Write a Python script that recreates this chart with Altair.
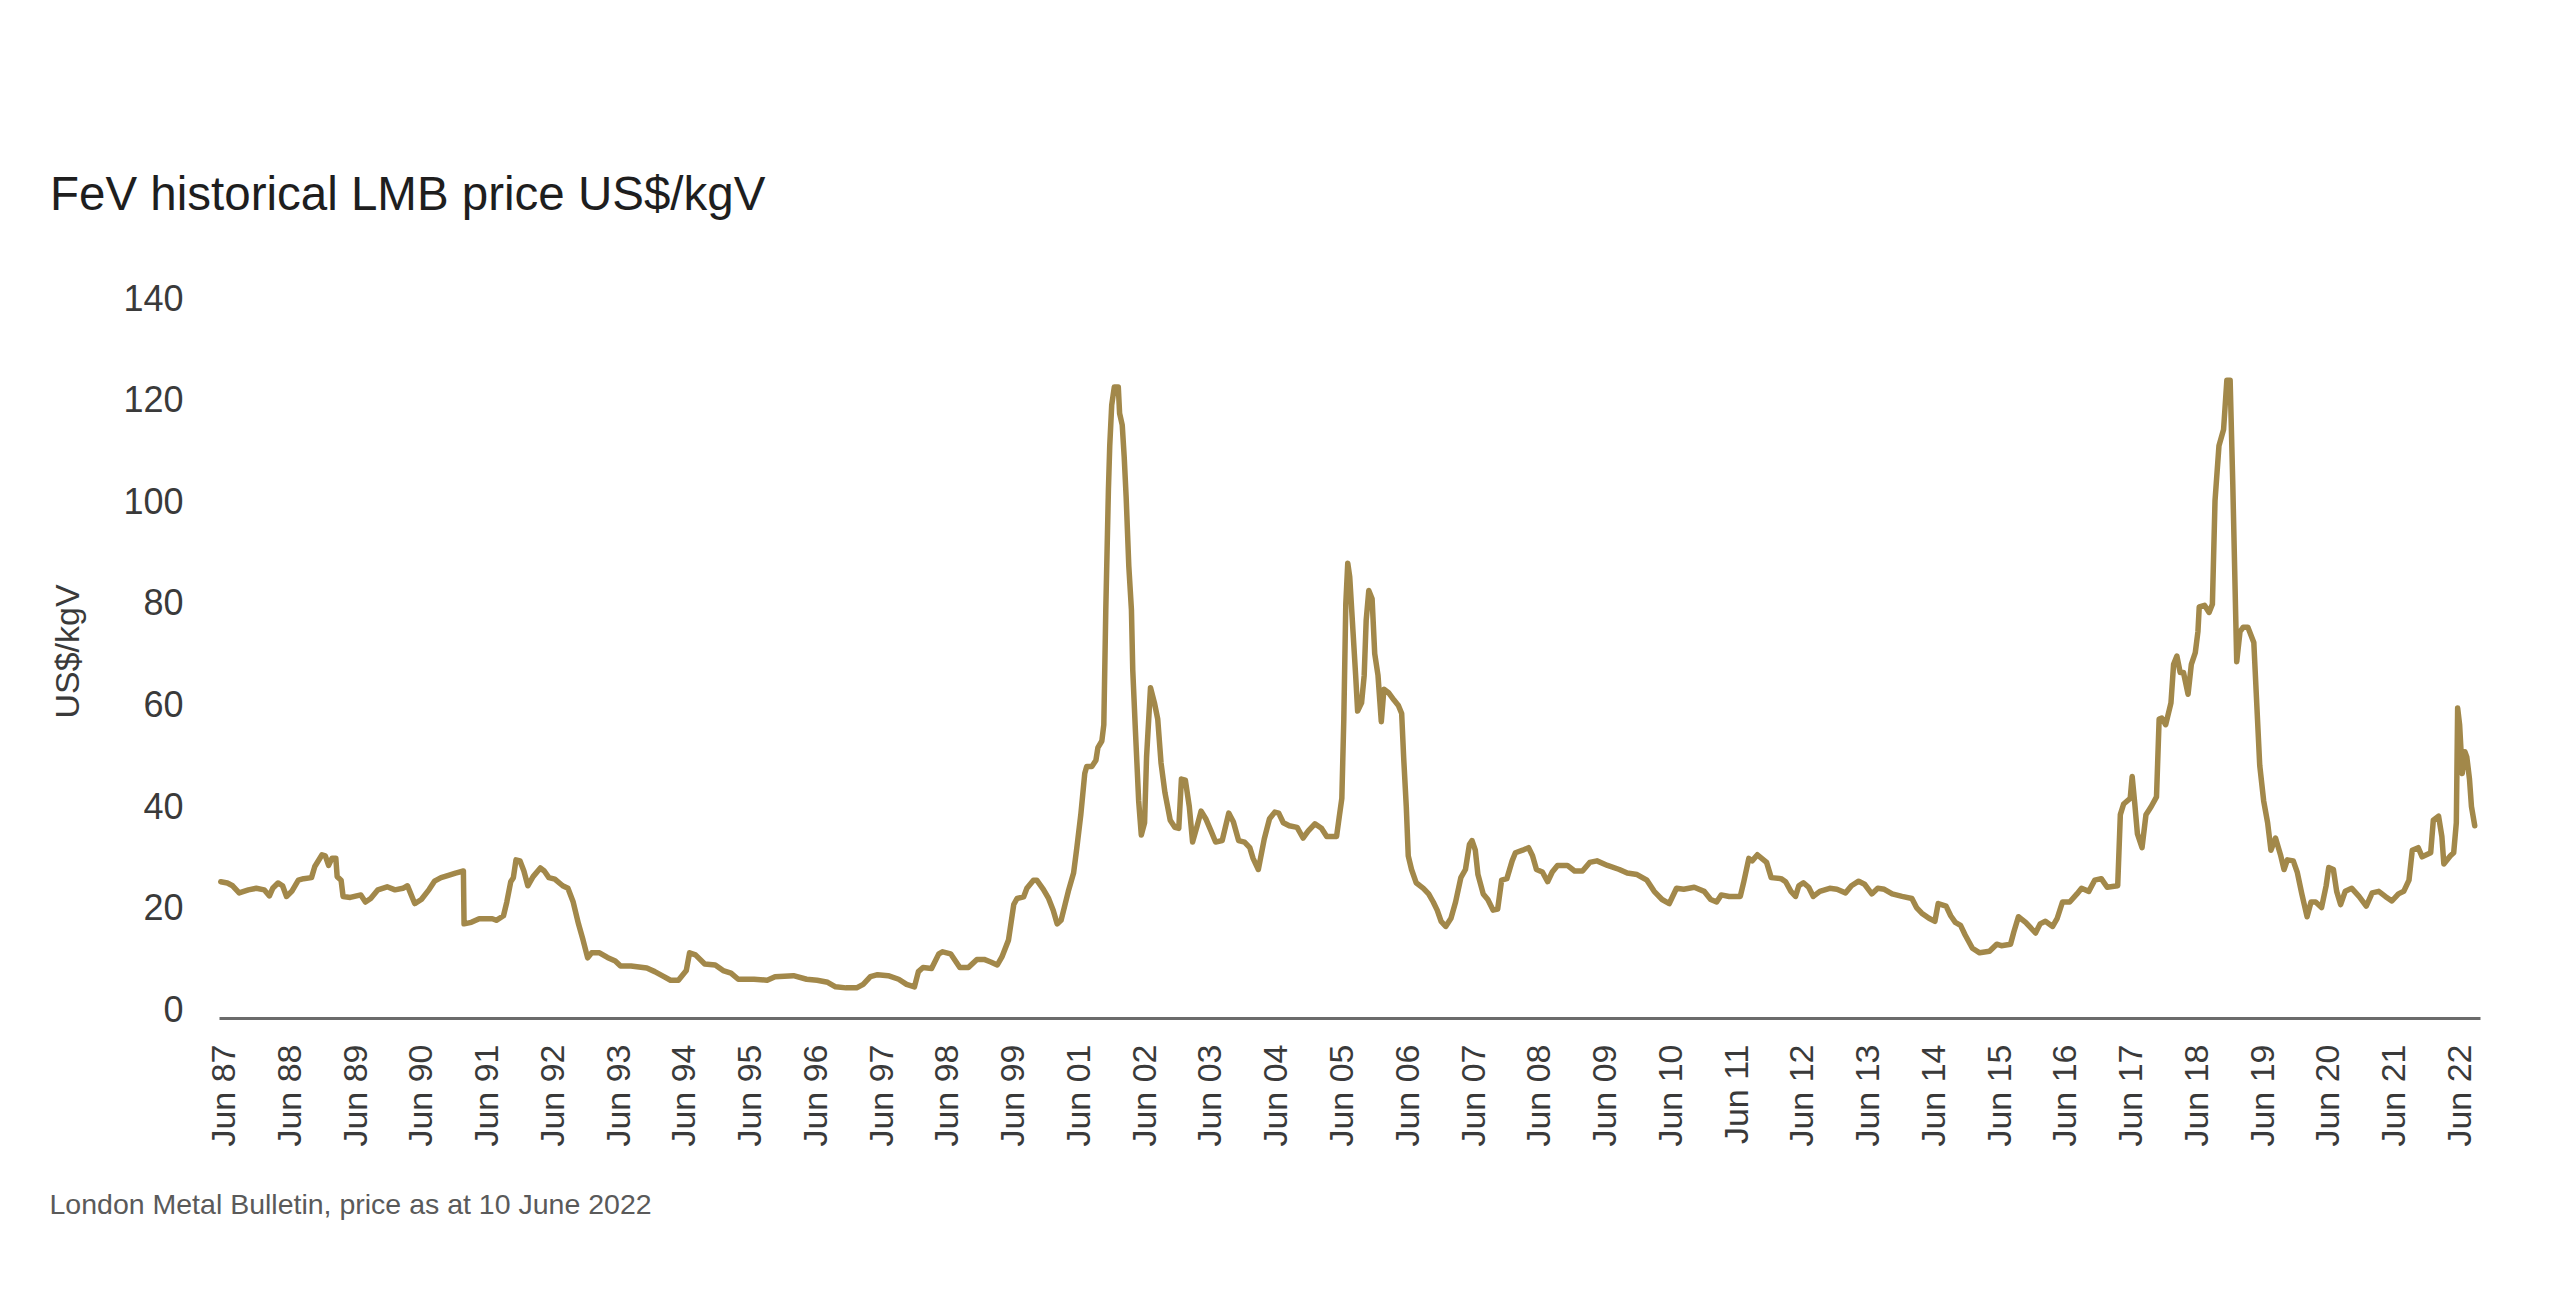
import altair as alt
import pandas as pd

# ---- tick labels (equally spaced; the original has no "Jun 00") ----
tick_labels = ["Jun 87", "Jun 88", "Jun 89", "Jun 90", "Jun 91", "Jun 92", "Jun 93",
               "Jun 94", "Jun 95", "Jun 96", "Jun 97", "Jun 98", "Jun 99", "Jun 01",
               "Jun 02", "Jun 03", "Jun 04", "Jun 05", "Jun 06", "Jun 07", "Jun 08",
               "Jun 09", "Jun 10", "Jun 11", "Jun 12", "Jun 13", "Jun 14", "Jun 15",
               "Jun 16", "Jun 17", "Jun 18", "Jun 19", "Jun 20", "Jun 21", "Jun 22"]
y_ticks = [0, 20, 40, 60, 80, 100, 120, 140]

# ---- series: position in tick-label units (0 = Jun 87 ... 34 = Jun 22), price US$/kgV ----
pos_a = [-0.06, 0.04, 0.12, 0.22, 0.36, 0.48, 0.60, 0.68, 0.73, 0.81, 0.88, 0.94, 1.02, 1.12, 1.20,
         1.32, 1.37, 1.48, 1.53, 1.58, 1.63, 1.69, 1.71, 1.77, 1.80, 1.91, 2.07, 2.14, 2.22, 2.33,
         2.47, 2.59, 2.71, 2.78, 2.83, 2.89, 2.99, 3.11, 3.19, 3.29, 3.39, 3.51, 3.63, 3.64, 3.75,
         3.87, 4.07, 4.13, 4.24, 4.29, 4.35, 4.39, 4.43, 4.49, 4.55, 4.61, 4.69, 4.80, 4.86, 4.93,
         5.02, 5.14, 5.22, 5.30, 5.38, 5.45, 5.52, 5.58, 5.70, 5.82, 5.94, 6.02, 6.18, 6.42, 6.54,
         6.68, 6.78, 6.90, 7.02, 7.07, 7.16, 7.30, 7.46, 7.58, 7.70, 7.81, 8.05, 8.25, 8.37, 8.65,
         8.85, 9.01, 9.17, 9.29, 9.45, 9.61, 9.71, 9.82, 9.93, 10.09, 10.25, 10.37, 10.49, 10.55,
         10.62, 10.75, 10.86, 10.92, 11.04, 11.18, 11.31, 11.44, 11.55, 11.65, 11.75, 11.82, 11.92]
val_a = [25.3, 25.05, 24.5, 23.1, 23.7, 24.0, 23.7, 22.5, 24.0, 25.05, 24.5, 22.4, 23.4, 25.6, 25.9,
         26.1, 28.3, 30.6, 30.4, 28.5, 29.9, 29.9, 26.3, 25.6, 22.4, 22.2, 22.7, 21.3, 22.0, 23.7,
         24.3, 23.7, 24.0, 24.5, 22.9, 21.0, 21.8, 23.8, 25.4, 26.1, 26.5, 27.0, 27.4, 17.0, 17.3,
         18.0, 18.0, 17.7, 18.6, 21.3, 25.3, 26.1, 29.6, 29.4, 27.4, 24.5, 26.3, 28.0, 27.4, 26.1,
         25.8, 24.5, 24.0, 21.3, 17.0, 13.8, 10.3, 11.3, 11.3, 10.4, 9.7, 8.7, 8.7, 8.3, 7.6,
         6.6, 5.9, 5.9, 7.8, 11.3, 10.9, 9.1, 8.9, 7.8, 7.3, 6.1, 6.1, 5.9, 6.6, 6.8,
         6.1, 5.9, 5.5, 4.6, 4.4, 4.4, 5.1, 6.6, 7.0, 6.8, 6.1, 5.1, 4.6, 7.6,
         8.4, 8.2, 11.1, 11.5, 11.1, 8.4, 8.4, 10.0, 10.0, 9.5, 8.9, 10.5, 13.8]

pos_b = [12.0, 12.05, 12.15, 12.2, 12.3, 12.35, 12.45, 12.53, 12.6, 12.66,
         12.72, 12.78, 12.83, 12.91, 12.96, 13.02, 13.08, 13.11, 13.19, 13.25,
         13.28, 13.34, 13.37, 13.40, 13.44, 13.46, 13.49, 13.53, 13.59, 13.61,
         13.65, 13.68, 13.71, 13.75, 13.79, 13.81, 13.85, 13.90, 13.94, 13.99,
         14.02, 14.08, 14.14, 14.19, 14.24, 14.30, 14.38, 14.45, 14.51, 14.55,
         14.61, 14.67, 14.72, 14.79, 14.85, 14.92, 15.0, 15.07, 15.17, 15.27,
         15.34, 15.42, 15.51, 15.59, 15.64, 15.72, 15.81, 15.89, 15.97, 16.03,
         16.10, 16.19, 16.31, 16.40, 16.48, 16.58, 16.68, 16.76, 16.91, 16.95,
         16.99, 17.02, 17.05, 17.08, 17.11, 17.16, 17.20, 17.23, 17.29, 17.33,
         17.36, 17.40, 17.45, 17.49, 17.54, 17.59, 17.63, 17.70, 17.78, 17.85,
         17.90, 17.93, 17.97, 18.0, 18.05, 18.12, 18.23, 18.31, 18.38, 18.44,
         18.50, 18.57, 18.65, 18.72, 18.80, 18.87, 18.93, 18.97, 19.02, 19.06,
         19.14, 19.21, 19.29, 19.36, 19.42, 19.50, 19.58, 19.63, 19.74, 19.83,
         19.89, 19.95, 20.04, 20.12, 20.19, 20.27, 20.42, 20.53, 20.65, 20.76,
         20.87, 21.03, 21.21, 21.33, 21.48, 21.63, 21.74, 21.86, 21.97, 22.08,
         22.19, 22.35, 22.5, 22.6, 22.69, 22.76, 22.88, 23.05, 23.10, 23.18,
         23.23, 23.31]
val_b = [20.8, 22.0, 22.3, 24.0, 25.6, 25.6, 23.8, 22.0, 19.7, 17.0,
         17.7, 20.8, 23.4, 27.0, 32.0, 38.5, 46.6, 48.0, 48.0, 49.2,
         51.7, 53.0, 56.2, 78.8, 102.5, 111.1, 119.1, 122.7, 122.7, 117.5,
         115.2, 108.9, 100.9, 87.4, 78.8, 67.0, 55.2, 41.2, 34.5, 36.9,
         49.8, 63.5, 60.5, 57.3, 48.7, 42.8, 37.4, 36.0, 35.8, 45.5,
         45.3, 40.1, 33.1, 36.3, 39.2, 37.7, 35.3, 33.1, 33.4, 38.8,
         37.1, 33.4, 33.1, 32.0, 29.9, 27.7, 33.7, 37.7, 39.0, 38.8,
         36.9, 36.3, 36.0, 33.9, 35.3, 36.7, 35.8, 34.2, 34.2, 38.0,
         41.7, 57.3, 79.9, 88.0, 85.3, 74.5, 65.9, 58.9, 60.5, 65.9,
         76.7, 82.6, 81.0, 70.2, 65.9, 56.8, 63.2, 62.5, 61.1, 60.0,
         58.4, 49.8, 40.1, 30.4, 27.7, 25.1, 24.0, 22.9, 21.3, 19.7,
         17.5, 16.5, 18.1, 21.3, 26.1, 27.7, 32.6, 33.4, 31.5, 26.7,
         22.9, 21.8, 19.7, 19.9, 25.6, 25.9, 29.4, 31.0, 31.5, 32.0,
         30.4, 27.7, 27.2, 25.3, 27.2, 28.5, 28.5, 27.4, 27.4, 29.1,
         29.4, 28.5, 27.7, 27.0, 26.7, 25.6, 23.4, 21.8, 21.0, 24.0,
         23.8, 24.2, 23.4, 21.8, 21.3, 22.7, 22.4, 22.4, 25.1, 29.9,
         29.4, 30.6]

pos_c = [23.45, 23.52, 23.67, 23.74, 23.82, 23.89, 23.94, 24.01, 24.09, 24.16,
         24.26, 24.41, 24.52, 24.65, 24.74, 24.85, 24.94, 25.05, 25.14, 25.24,
         25.36, 25.51, 25.66, 25.73, 25.81, 25.92, 26.01, 26.06, 26.18, 26.25,
         26.32, 26.40, 26.47, 26.58, 26.69, 26.84, 26.95, 27.02, 27.16, 27.21,
         27.28, 27.39, 27.54, 27.61, 27.69, 27.80, 27.87, 27.95, 28.06, 28.17,
         28.24, 28.35, 28.44, 28.54, 28.63, 28.79, 28.83, 28.88, 28.98, 29.01,
         29.05, 29.09, 29.16, 29.22, 29.30, 29.38, 29.42, 29.46, 29.52, 29.60,
         29.64, 29.69, 29.74, 29.79, 29.86, 29.91, 29.97, 30.01, 30.03, 30.11,
         30.18, 30.23, 30.27, 30.33, 30.40, 30.45, 30.50, 30.54, 30.60, 30.65,
         30.70, 30.77, 30.86, 30.90, 30.95, 31.01, 31.07, 31.12, 31.19, 31.27,
         31.32, 31.37, 31.46, 31.52, 31.59, 31.67, 31.73, 31.80, 31.89, 31.96,
         32.00, 32.07, 32.12, 32.18, 32.25, 32.35, 32.46, 32.57, 32.66, 32.76,
         32.86, 32.96, 33.06, 33.14, 33.22, 33.27, 33.36, 33.42, 33.55, 33.59,
         33.67, 33.72, 33.75, 33.85, 33.90, 33.94, 33.96, 33.99, 34.03, 34.07,
         34.10, 34.14, 34.17, 34.22]
val_c = [29.1, 26.1, 25.9, 25.3, 23.4, 22.4, 24.5, 25.1, 24.2, 22.4,
         23.4, 24.0, 23.8, 23.1, 24.5, 25.4, 24.8, 22.9, 24.0, 23.8,
         22.9, 22.4, 22.0, 20.2, 19.1, 18.1, 17.5, 21.0, 20.5, 18.6,
         17.3, 16.7, 14.8, 12.2, 11.3, 11.6, 13.0, 12.7, 13.0, 15.4,
         18.4, 17.3, 15.2, 17.0, 17.5, 16.5, 18.1, 21.3, 21.3, 22.9,
         24.0, 23.4, 25.6, 25.9, 24.2, 24.5, 38.5, 40.6, 41.7, 46.0,
         40.6, 34.7, 32.0, 38.5, 40.1, 42.0, 57.3, 57.5, 56.2, 60.5,
         68.1, 69.7, 66.5, 66.5, 62.2, 68.1, 70.4, 74.5, 79.4, 79.7,
         78.3, 79.9, 100.3, 111.1, 114.3, 124.0, 124.0, 103.7, 68.6, 74.5,
         75.4, 75.4, 72.4, 61.6, 48.2, 41.2, 36.9, 31.5, 33.9, 30.4,
         27.7, 29.6, 29.4, 27.2, 22.9, 18.4, 21.3, 21.3, 20.2, 24.5,
         28.1, 27.7, 23.4, 20.8, 23.4, 24.0, 22.4, 20.5, 23.1, 23.4,
         22.4, 21.5, 22.9, 23.4, 25.6, 31.5, 32.0, 30.2, 31.0, 37.4,
         38.2, 34.2, 28.8, 30.4, 31.0, 36.9, 59.5, 56.2, 46.6, 50.9,
         49.8, 45.5, 40.1, 36.3]

title_text = "FeV historical LMB price US$/kgV"
source_text = "London Metal Bulletin, price as at 10 June 2022"
y_title = "US$/kgV"

df = pd.DataFrame({
    "pos": pos_a + pos_b + pos_c,
    "price": val_a + val_b + val_c,
})
df["order"] = range(len(df))

FONT = "Liberation Sans, Arial, Helvetica, sans-serif"
label_expr = "[" + ",".join("'%s'" % t for t in tick_labels) + "][datum.value]"

chart = alt.Chart(df).mark_line(
    color="#A2884A", strokeWidth=5.5, strokeJoin="round", strokeCap="round"
).encode(
    x=alt.X(
        "pos:Q",
        scale=alt.Scale(domain=[-0.087, 34.30], nice=False, zero=False),
        axis=alt.Axis(
            values=list(range(len(tick_labels))),
            labelExpr=label_expr,
            labelAngle=270, labelAlign="right", labelBaseline="middle",
            labelPadding=26, labelFontSize=34, labelFont=FONT, labelColor="#3a3a3a",
            labelOverlap=False, labelFlush=False, labelBound=False,
            ticks=False, grid=False,
            domainColor="#6b6b6b", domainWidth=3,
            title=source_text, titleX=-170, titleY=186, titleAlign="left",
            titleAnchor="start", titleBaseline="middle", titleAngle=0,
            titleFontSize=28.5, titleFontWeight="normal", titleFont=FONT,
            titleColor="#5a5a5a",
        ),
    ),
    y=alt.Y(
        "price:Q",
        scale=alt.Scale(domain=[-1.53, 140], nice=False, zero=False),
        axis=alt.Axis(
            values=y_ticks, domain=False, ticks=False, grid=False,
            labelPadding=36, labelFontSize=36, labelFont=FONT, labelColor="#3a3a3a",
            title=y_title, titleX=-151, titleY=352, titleAngle=270,
            titleAlign="center", titleBaseline="middle",
            titleFontSize=34, titleFontWeight="normal", titleFont=FONT,
            titleColor="#3a3a3a",
        ),
    ),
    order="order:Q",
).properties(
    width=2261,
    height=719,
    title=alt.TitleParams(
        text=title_text, anchor="start", frame="group", dx=-169, offset=24,
        baseline="alphabetic", fontSize=47.5, font=FONT, fontWeight="normal",
        color="#1e1e1e",
    ),
    padding={"left": 211, "top": 291, "right": 50, "bottom": 240},
    autosize=alt.AutoSizeParams(type="none"),
).configure(background="white").configure_view(strokeWidth=0, stroke="transparent")

chart.save("out.html", embed_options={"renderer": "svg", "actions": False})
